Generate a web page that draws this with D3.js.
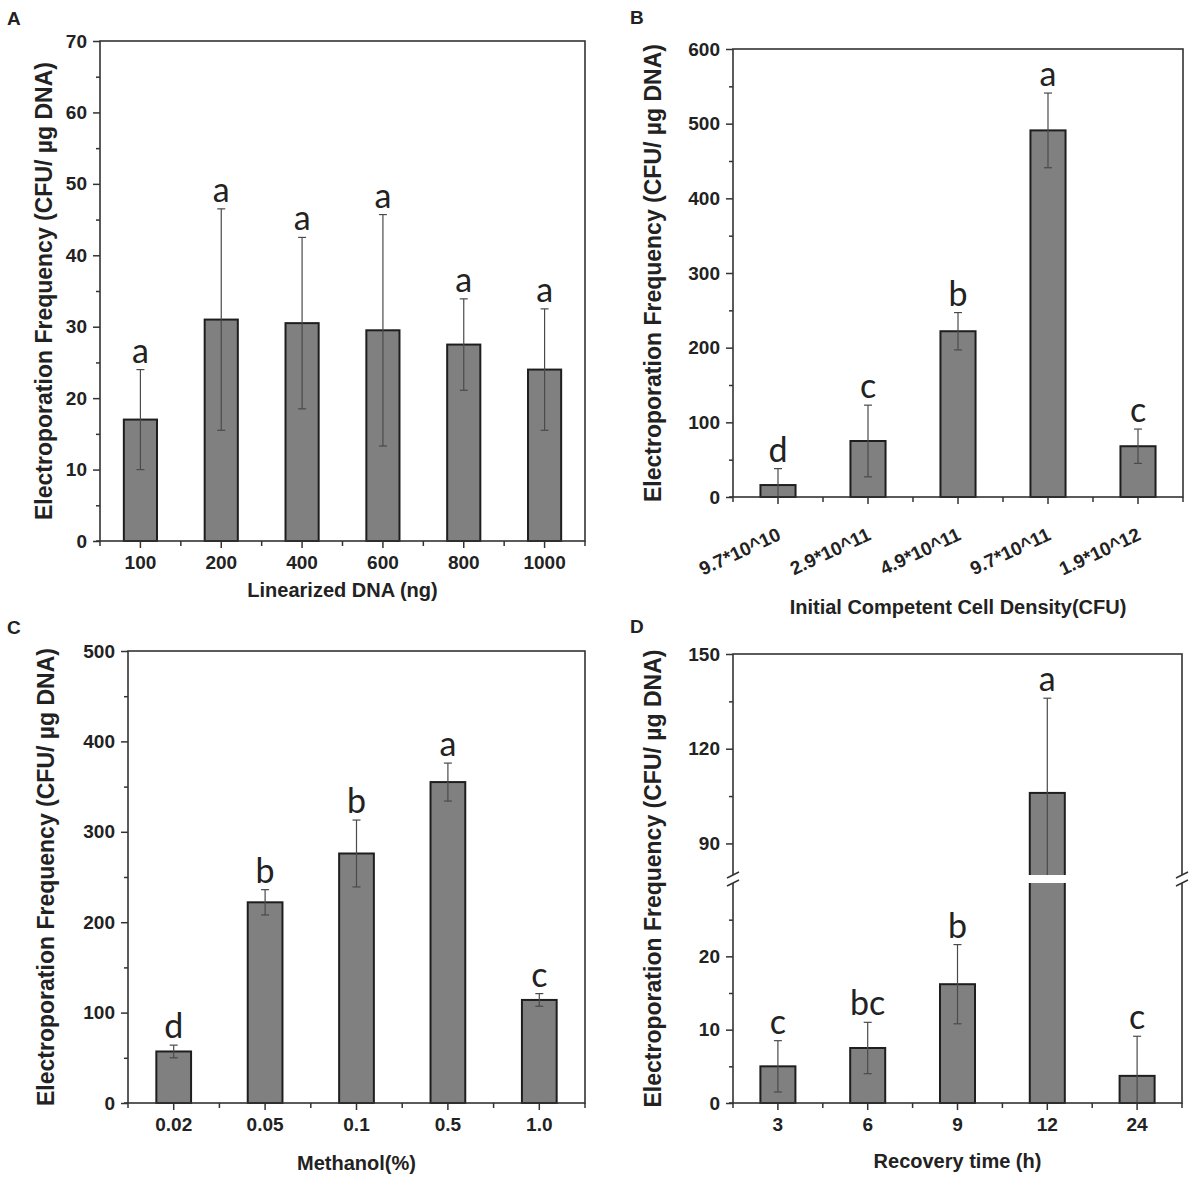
<!DOCTYPE html>
<html>
<head>
<meta charset="utf-8">
<script src="https://cdn.jsdelivr.net/npm/d3@7"></script>
<style>
  body { margin: 0; background: #fff; }
  svg { display: block; }
  text { font-family: "Liberation Sans", Arial, sans-serif; }
  .tick text { font-weight: bold; fill: #222; }
  .ttl { font-weight: bold; fill: #222; }
  .let { font-family: Lato, "Open Sans", sans-serif; fill: #222; }
</style>
</head>
<body>
<div id="chart"></div>
<script>
// panel A
const catsA = ["100", "200", "400", "600", "800", "1000"];
const meanA = [17, 31, 30.5, 29.5, 27.5, 24];
const errA = [7, 15.5, 12, 16.2, 6.4, 8.5];
const letA = ["a", "a", "a", "a", "a", "a"];
const ticksA = [0, 10, 20, 30, 40, 50, 60, 70];
const minorA = [5, 15, 25, 35, 45, 55, 65];

// panel B
const catsB = ["9.7*10^10", "2.9*10^11", "4.9*10^11", "9.7*10^11", "1.9*10^12"];
const meanB = [16, 75, 222, 491, 68];
const errB = [22, 48, 25, 50, 23];
const letB = ["d", "c", "b", "a", "c"];
const ticksB = [0, 100, 200, 300, 400, 500, 600];
const minorB = [50, 150, 250, 350, 450, 550];

// panel C
const catsC = ["0.02", "0.05", "0.1", "0.5", "1.0"];
const meanC = [57, 222, 276, 355, 114];
const errC = [7, 14, 37, 21, 7];
const letC = ["d", "b", "b", "a", "c"];
const ticksC = [0, 100, 200, 300, 400, 500];
const minorC = [50, 150, 250, 350, 450];

// panel D (broken y axis 30..80)
const catsD = ["3", "6", "9", "12", "24"];
const meanD = [5, 7.5, 16.2, 106, 3.7];
const errD = [3.5, 3.5, 5.4, 30, 5.4];
const letD = ["c", "bc", "b", "a", "c"];
const ticksD = [0, 10, 20, 90, 120, 150];
const minorD = [5, 15, 25, 105, 135];

const svg = d3.select("#chart").append("svg")
  .attr("width", 1200)
  .attr("height", 1184);

function panel(o) {
  const g = svg.append("g");
  const x = d3.scaleBand().domain(o.cats).range([o.x0, o.x1])
    .paddingInner(o.pad).paddingOuter(o.pad / 2);
  const y = d3.scaleLinear().domain(o.yDom).range(o.yRange);
  const yb = o.yRange[0], yt = o.yRange[o.yRange.length - 1];
  const data = o.cats.map((c, i) => ({ c: c, m: o.mean[i], e: o.err[i], l: o.lets[i] }));
  const cx = d => x(d.c) + x.bandwidth() / 2;

  // bars
  g.selectAll("rect.bar").data(data).enter().append("rect")
    .attr("class", "bar")
    .attr("x", d => x(d.c))
    .attr("width", x.bandwidth())
    .attr("y", d => y(d.m))
    .attr("height", d => yb - y(d.m))
    .attr("fill", "#808080")
    .attr("stroke", "#1e1e1e")
    .attr("stroke-width", 2);

  // error bars
  const eb = g.selectAll("g.err").data(data).enter().append("g")
    .attr("stroke", "#4a4a4a").attr("stroke-width", 1.2);
  eb.append("line")
    .attr("x1", cx).attr("x2", cx)
    .attr("y1", d => y(Math.max(0, d.m - d.e))).attr("y2", d => y(d.m + d.e));
  eb.append("line")
    .attr("x1", d => cx(d) - 4).attr("x2", d => cx(d) + 4)
    .attr("y1", d => y(d.m + d.e)).attr("y2", d => y(d.m + d.e));
  eb.filter(d => d.m - d.e > 0).append("line")
    .attr("x1", d => cx(d) - 4).attr("x2", d => cx(d) + 4)
    .attr("y1", d => y(d.m - d.e)).attr("y2", d => y(d.m - d.e));

  // letters
  g.selectAll("text.let").data(data).enter().append("text")
    .attr("class", "let")
    .attr("x", cx)
    .attr("y", d => y(d.m + d.e) - 7)
    .attr("text-anchor", "middle")
    .style("font-size", "34px")
    .text(d => d.l);

  // y axis
  const ya = g.append("g").attr("transform", `translate(${o.x0},0)`)
    .call(d3.axisLeft(y).tickValues(o.ticks).tickSize(7).tickSizeOuter(0).tickPadding(6));
  ya.select(".domain").remove();
  ya.selectAll("text").style("font-size", "19px");
  const ym = g.append("g").attr("transform", `translate(${o.x0},0)`)
    .call(d3.axisLeft(y).tickValues(o.minor).tickSize(4).tickSizeOuter(0).tickFormat(""));
  ym.select(".domain").remove();

  // x axis
  const xa = g.append("g").attr("transform", `translate(0,${yb})`)
    .call(d3.axisBottom(x).tickSize(7).tickSizeOuter(0).tickPadding(8));
  xa.select(".domain").remove();
  xa.selectAll("text").style("font-size", "19px");
  if (o.rotate) {
    xa.selectAll(".tick text")
      .attr("text-anchor", "end")
      .attr("dy", 0)
      .attr("y", 0)
      .attr("transform", "translate(4,42) rotate(-25)")
      .style("font-size", "19px");
  }
  g.selectAll("line.minx").data(d3.range(o.cats.length + 1)).enter().append("line")
    .attr("x1", i => o.x0 + x.step() * i).attr("x2", i => o.x0 + x.step() * i)
    .attr("y1", yb).attr("y2", yb + 5)
    .attr("stroke", "#333").attr("stroke-width", 1.5);
  g.selectAll(".tick line").attr("stroke", "#333").attr("stroke-width", 1.5);

  // frame
  g.append("rect")
    .attr("x", o.x0).attr("y", yt)
    .attr("width", o.x1 - o.x0).attr("height", yb - yt)
    .attr("fill", "none").attr("stroke", "#333").attr("stroke-width", 1.6);
  g.append("line").attr("x1", o.x0 - 4).attr("x2", o.x0).attr("y1", yb).attr("y2", yb)
    .attr("stroke", "#333").attr("stroke-width", 1.6);

  // axis break
  if (o.brk) {
    const b1 = y(o.brk[1]), b0 = y(o.brk[0]);
    g.append("rect").attr("x", o.x0 - 3).attr("y", b1)
      .attr("width", o.x1 - o.x0 + 6).attr("height", b0 - b1)
      .attr("fill", "#fff");
    [o.x0, o.x1].forEach(px => {
      [b1, b0].forEach(py => {
        g.append("line")
          .attr("x1", px - 6).attr("y1", py + 3)
          .attr("x2", px + 6).attr("y2", py - 3)
          .attr("stroke", "#333").attr("stroke-width", 1.4);
      });
    });
  }

  // titles
  g.append("text").attr("class", "ttl")
    .attr("x", (o.x0 + o.x1) / 2).attr("y", o.xTitleY)
    .attr("text-anchor", "middle").style("font-size", "20px")
    .text(o.xTitle);
  g.append("text").attr("class", "ttl")
    .attr("transform", `translate(${o.yTitleX},${(yb + yt) / 2}) rotate(-90)`)
    .attr("text-anchor", "middle").style("font-size", "23px")
    .text("Electroporation Frequency (CFU/ \u00b5g DNA)");
  g.append("text").attr("class", "ttl")
    .attr("x", o.lx).attr("y", o.ly).style("font-size", "19px")
    .text(o.label);
}

panel({
  cats: catsA, mean: meanA, err: errA, lets: letA, ticks: ticksA, minor: minorA,
  x0: 100, x1: 585, pad: 0.59, yDom: [0, 70], yRange: [541, 41],
  xTitle: "Linearized DNA (ng)", xTitleY: 597, yTitleX: 52, label: "A", lx: 7, ly: 25
});
panel({
  cats: catsB, mean: meanB, err: errB, lets: letB, ticks: ticksB, minor: minorB,
  x0: 733, x1: 1183, pad: 0.61, yDom: [0, 600], yRange: [497, 49], rotate: true,
  xTitle: "Initial Competent Cell Density(CFU)", xTitleY: 614, yTitleX: 661, label: "B", lx: 630, ly: 24
});
panel({
  cats: catsC, mean: meanC, err: errC, lets: letC, ticks: ticksC, minor: minorC,
  x0: 128, x1: 585, pad: 0.62, yDom: [0, 500], yRange: [1103, 651],
  xTitle: "Methanol(%)", xTitleY: 1170, yTitleX: 54, label: "C", lx: 7, ly: 634
});
panel({
  cats: catsD, mean: meanD, err: errD, lets: letD, ticks: ticksD, minor: minorD,
  x0: 733, x1: 1182, pad: 0.61, yDom: [0, 30, 80, 150], yRange: [1103, 883, 875, 654],
  brk: [30, 80],
  xTitle: "Recovery time (h)", xTitleY: 1168, yTitleX: 661, label: "D", lx: 630, ly: 633
});
</script>
</body>
</html>
